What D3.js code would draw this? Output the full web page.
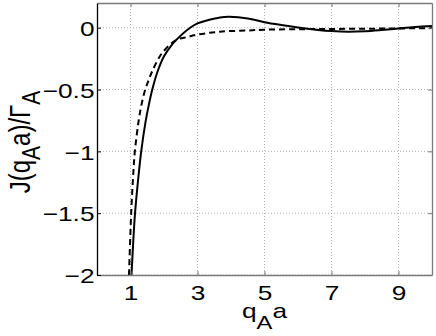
<!DOCTYPE html>
<html>
<head>
<meta charset="utf-8">
<script src="https://cdn.jsdelivr.net/npm/d3@7"></script>
<style>
  body { margin: 0; background: #fff; }
  svg { display: block; }
  text { font-family: "Liberation Sans", Arial, Helvetica, sans-serif; fill: #000; }
</style>
</head>
<body>
<div id="chart"></div>
<script>
// J(qa)/Gamma curves
const solidX = [1.03, 1.13, 1.22, 1.32, 1.45, 1.55, 1.65, 1.8, 2.0, 2.2, 2.36, 2.78, 3.0, 3.3, 3.67, 3.95, 4.5, 5.0, 5.5, 6.0, 6.6, 7.0, 7.5, 8.0, 8.5, 9.0, 9.5, 10.0];
const solidY = [-2.0, -1.52, -1.25, -1.0, -0.76, -0.62, -0.5, -0.36, -0.23, -0.15, -0.1, 0.0, 0.035, 0.06, 0.083, 0.088, 0.075, 0.045, 0.022, 0.002, -0.018, -0.027, -0.032, -0.028, -0.018, -0.006, 0.005, 0.015];

const dashX = [0.955, 1.02, 1.09, 1.13, 1.25, 1.33, 1.44, 1.55, 1.66, 1.93, 2.36, 2.7, 3.0, 3.67, 4.5, 5.0, 6.0, 7.0, 8.0, 9.0, 10.0];
const dashY = [-2.0, -1.5, -1.15, -1.0, -0.74, -0.62, -0.5, -0.418, -0.345, -0.21, -0.1, -0.075, -0.056, -0.032, -0.022, -0.016, -0.012, -0.01, -0.008, -0.006, -0.003];

const xTicks = [1, 3, 5, 7, 9];
const yTicks = [0, -0.5, -1, -1.5, -2];
const yTickLabels = ["0", "\u22120.5", "\u22121", "\u22121.5", "\u22122"];

const W = 436, H = 336;
const margin = {top: 3, right: 4, bottom: 61, left: 97};
const width = W - margin.left - margin.right;
const height = H - margin.top - margin.bottom;
// the source figure is a bit wider than tall, so glyphs are stretched sideways
const STRETCH = 1.25;

const svg = d3.select("#chart").append("svg")
    .attr("width", W)
    .attr("height", H);

const g = svg.append("g")
    .attr("transform", `translate(${margin.left},${margin.top})`);

const x = d3.scaleLinear().domain([0, 10]).range([0, width]);
const y = d3.scaleLinear().domain([-2, 0.2]).range([height, 0]);

// dotted grid
g.append("g").selectAll("line")
    .data(xTicks)
    .join("line")
    .attr("x1", d => x(d)).attr("x2", d => x(d))
    .attr("y1", 0).attr("y2", height)
    .attr("stroke", "#b4b4b4")
    .attr("stroke-dasharray", "1,2");

g.append("g").selectAll("line")
    .data(yTicks)
    .join("line")
    .attr("x1", 0).attr("x2", width)
    .attr("y1", d => y(d)).attr("y2", d => y(d))
    .attr("stroke", "#b4b4b4")
    .attr("stroke-dasharray", "1,2");

// curves
g.append("clipPath").attr("id", "clip")
    .append("rect").attr("width", width).attr("height", height);

const line = d3.line()
    .x(d => x(d[0]))
    .y(d => y(d[1]))
    .curve(d3.curveCatmullRom.alpha(0.5));

const solid = d3.zip(solidX, solidY);
const dashed = d3.zip(dashX, dashY);

g.append("path")
    .datum(dashed)
    .attr("clip-path", "url(#clip)")
    .attr("fill", "none")
    .attr("stroke", "#000")
    .attr("stroke-width", 2)
    .attr("stroke-dasharray", "6,4")
    .attr("d", line);

g.append("path")
    .datum(solid)
    .attr("clip-path", "url(#clip)")
    .attr("fill", "none")
    .attr("stroke", "#000")
    .attr("stroke-width", 2)
    .attr("d", line);

// axes box (matlab style, ticks inside)
const xAxisB = d3.axisBottom(x).tickValues(xTicks).tickSizeInner(-4).tickSizeOuter(0).tickPadding(10);
const xAxisT = d3.axisTop(x).tickValues(xTicks).tickSizeInner(-4).tickSizeOuter(0).tickFormat("");
const yAxisL = d3.axisLeft(y).tickValues(yTicks).tickSizeInner(-4).tickSizeOuter(0)
    .tickFormat((d, i) => yTickLabels[i]);
const yAxisR = d3.axisRight(y).tickValues(yTicks).tickSizeInner(-4).tickSizeOuter(0).tickFormat("");

function styleAxis(sel, col) {
    sel.select(".domain").attr("stroke", col).attr("stroke-width", 1.3);
    sel.selectAll(".tick line").attr("stroke", col);
    sel.selectAll(".tick text").style("font-size", "21px").attr("fill", "#000");
}

g.append("g").attr("transform", `translate(0,${height})`).call(xAxisB).call(s => styleAxis(s, "#7a7a7a"))
    .selectAll(".tick text").attr("transform", `scale(${STRETCH},1)`);
g.append("g").call(xAxisT).call(s => styleAxis(s, "#7a7a7a"));
g.append("g").attr("transform", `translate(${width},0)`).call(yAxisR).call(s => styleAxis(s, "#7a7a7a"));
g.append("g").call(yAxisL).call(s => styleAxis(s, "#000"))
    .selectAll(".tick text")
    .attr("x", 0)
    .attr("transform", `translate(-2.5,1) scale(${STRETCH},1)`);

// labels
const xl = svg.append("text")
    .attr("transform", `translate(${margin.left + width / 2},318) scale(${STRETCH},1)`)
    .attr("text-anchor", "middle")
    .style("font-size", "21px");
xl.append("tspan").text("q");
xl.append("tspan").attr("dy", 11).style("font-size", "19px").text("A");
xl.append("tspan").attr("dy", -11).text("a");

const yl = svg.append("text")
    .attr("transform", `translate(30,142) scale(${STRETCH},1) rotate(-90)`)
    .attr("text-anchor", "middle")
    .style("font-size", "24px");
yl.append("tspan").text("J(q");
yl.append("tspan").attr("dy", 8).style("font-size", "21px").text("A");
yl.append("tspan").attr("dy", -8).text("a)/\u0393");
yl.append("tspan").attr("dy", 8).style("font-size", "21px").text("A");
</script>
</body>
</html>
